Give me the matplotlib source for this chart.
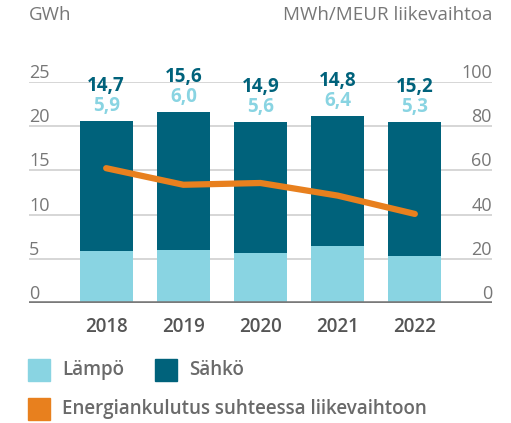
import matplotlib
matplotlib.use("Agg")
import matplotlib.pyplot as plt
from matplotlib.patches import Rectangle
import matplotlib.transforms as mtransforms
import numpy as np

plt.rcParams['font.family'] = ['Open Sans', 'DejaVu Sans']

years = ['2018', '2019', '2020', '2021', '2022']
lampo = [5.9, 6.0, 5.6, 6.4, 5.3]
sahko = [14.7, 15.6, 14.9, 14.8, 15.2]
intensity = [61.0, 53.5, 54.3, 48.6, 40.3]
left_ticks = [0, 5, 10, 15, 20, 25]
right_ticks = [0, 20, 40, 60, 80, 100]

C_LIGHT = '#89D4E2'
C_DARK = '#00627B'
C_ORANGE = '#E8801E'
C_GRID = '#D0D0D0'
C_TEXT = '#777777'

W, H = 511, 423
fig = plt.figure(figsize=(W / 100, H / 100), dpi=100)
ax = fig.add_axes([29 / W, (H - 303) / H, (492 - 29) / W, (303 - 82) / H])
ax2 = ax.twinx()

x = np.arange(len(years))
ax.bar(x, lampo, width=0.69, color=C_LIGHT, zorder=2)
ax.bar(x, sahko, width=0.69, bottom=lampo, color=C_DARK, zorder=2)
ax.set_xlim(-1.0, 5.0)
ax.set_ylim(0, 25)
ax2.set_ylim(0, 100)
ax2.plot(x, intensity, color=C_ORANGE, lw=4.5, solid_capstyle='round', zorder=3)

for a in (ax, ax2):
    for s in a.spines.values():
        s.set_visible(False)
    a.set_yticks([])
    a.tick_params(length=0)
ax.set_xticks(x)
ax.set_xticklabels(years, fontsize=13.5, color='#555555', fontweight='semibold')
ax.tick_params(axis='x', pad=10)

for t in left_ticks[1:]:
    ax.axhline(t, color=C_GRID, lw=1.2, zorder=1)
ax.axhline(0, color='#7A7A7A', lw=2.6, zorder=4)

tl = mtransforms.blended_transform_factory(ax.transAxes, ax.transData)
for t in left_ticks:
    ax.text(0.0, t, str(t), transform=tl, ha='left', va='bottom',
            fontsize=13, color=C_TEXT)
tr = mtransforms.blended_transform_factory(ax2.transAxes, ax2.transData)
for t in right_ticks:
    ax2.text(1.0, t, str(t), transform=tr, ha='right', va='bottom', fontsize=13,
             color=C_TEXT)

off = mtransforms.offset_copy
for i in range(len(years)):
    top = lampo[i] + sahko[i]
    ax.text(x[i], top, f"{sahko[i]:.1f}".replace('.', ','), ha='center', va='center',
            fontsize=13.5, fontweight='bold', color=C_DARK, clip_on=False,
            transform=off(ax.transData, fig=fig, y=35, units='dots'))
    ax.text(x[i], top, f"{lampo[i]:.1f}".replace('.', ','), ha='center', va='center',
            fontsize=13.5, fontweight='bold', color=C_LIGHT, clip_on=False,
            transform=off(ax.transData, fig=fig, y=15, units='dots'))

fig.text(29 / W, 1 - 15 / H, 'GWh', ha='left', va='center', fontsize=13.5,
         color=C_TEXT)
fig.text(492 / W, 1 - 15 / H, 'MWh/MEUR liikevaihtoa', ha='right', va='center',
         fontsize=13.5, color=C_TEXT)

# legend
def legend_item(x0, y0, color, label):
    fig.patches.append(Rectangle((x0 / W, 1 - (y0 + 22) / H), 22 / W, 22 / H,
                                 transform=fig.transFigure, color=color))
    fig.text((x0 + 34) / W, 1 - (y0 + 11) / H, label, ha='left', va='center',
             fontsize=13.5, color='#6A6A6A', fontweight='semibold')

legend_item(28, 359, C_LIGHT, 'Lämpö')
legend_item(155, 359, C_DARK, 'Sähkö')
legend_item(28, 398, C_ORANGE, 'Energiankulutus suhteessa liikevaihtoon')

fig.savefig('out.png', dpi=100)
